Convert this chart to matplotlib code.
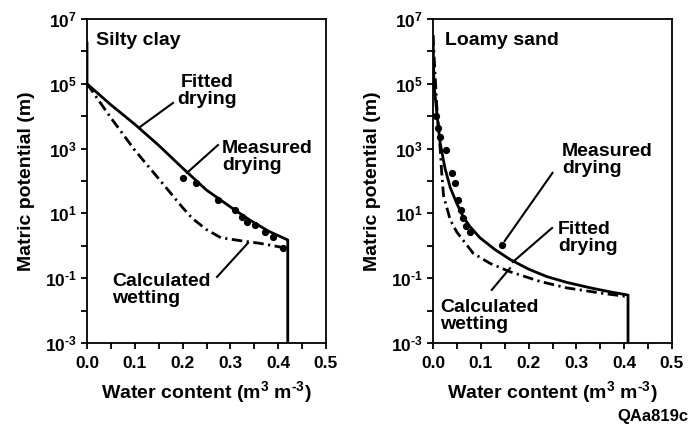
import numpy as np
import matplotlib
matplotlib.use("Agg")
import matplotlib.pyplot as plt
from matplotlib.ticker import FixedLocator, NullFormatter

plt.rcParams['font.family'] = ['Liberation Sans', 'DejaVu Sans']
plt.rcParams['font.weight'] = 'bold'
plt.rcParams['axes.labelweight'] = 'bold'
plt.rcParams['mathtext.fontset'] = 'custom'
plt.rcParams['mathtext.rm'] = 'Liberation Sans:bold'
plt.rcParams['mathtext.bf'] = 'Liberation Sans:bold'
plt.rcParams['mathtext.it'] = 'Liberation Sans:bold:italic'
plt.rcParams['mathtext.default'] = 'rm'

# ---------------- data: silty clay (left) ----------------
sc_fit_theta = [0.0, 0.0, 0.05, 0.10, 0.15, 0.20, 0.25, 0.30, 0.34, 0.38, 0.42, 0.42]
sc_fit_logh = [6.3, 5.0, 4.35, 3.75, 3.1, 2.4, 1.72, 1.2, 0.8, 0.45, 0.18, -3.0]
sc_wet_theta = [0.0, 0.05, 0.10, 0.15, 0.20, 0.22, 0.25, 0.28, 0.32, 0.36, 0.42]
sc_wet_logh = [5.0, 3.95, 2.95, 2.07, 1.18, 0.85, 0.5, 0.25, 0.16, 0.08, -0.08]
sc_meas_theta = [0.201, 0.228, 0.274, 0.31, 0.324, 0.334, 0.351, 0.372, 0.389, 0.41]
sc_meas_logh = [2.09, 1.94, 1.41, 1.1, 0.88, 0.73, 0.64, 0.43, 0.27, -0.07]

# ---------------- data: loamy sand (right) ----------------
ls_fit_theta = [0.0, 0.002, 0.008, 0.015, 0.025, 0.036, 0.05, 0.063, 0.077, 0.098,
                0.13, 0.161, 0.20, 0.238, 0.28, 0.33, 0.37, 0.408, 0.408]
ls_fit_logh = [6.5, 5.0, 4.1, 3.17, 2.4, 1.8, 1.3, 0.9, 0.6, 0.25,
               -0.12, -0.42, -0.72, -0.95, -1.13, -1.3, -1.42, -1.52, -3.0]
ls_wet_theta = [0.0, 0.008, 0.015, 0.018, 0.022, 0.036, 0.05, 0.084, 0.119, 0.161,
                0.203, 0.224, 0.28, 0.356, 0.408]
ls_wet_logh = [6.5, 4.3, 3.0, 2.3, 1.55, 0.8, 0.42, -0.23, -0.54, -0.8,
               -1.0, -1.1, -1.3, -1.47, -1.57]
ls_meas_theta = [0.006, 0.01, 0.015, 0.027, 0.04, 0.046, 0.052, 0.058, 0.063, 0.068, 0.077, 0.145]
ls_meas_logh = [4.0, 3.65, 3.35, 2.96, 2.25, 1.95, 1.42, 1.12, 0.85, 0.6, 0.42, 0.02]

x_ticks = [0.0, 0.1, 0.2, 0.3, 0.4, 0.5]
x_ticklabels = ['0.0', '0.1', '0.2', '0.3', '0.4', '0.5']
y_exps = [7, 5, 3, 1, -1, -3]

FS_TICK = 12.5
FS_TXT = 14
FS_LAB = 14
fig = plt.figure(figsize=(6.91, 4.30), dpi=100)
ax1 = fig.add_axes([87/691, 87/430, 239/691, 324/430])
ax2 = fig.add_axes([433/691, 87/430, 239/691, 324/430])

wet_dashes = (3.8, 1.6, 0.8, 1.6)


def h(v):
    return [10.0 ** a for a in v]


def exp_label(e):
    s = str(e).replace('-', '\u2010')
    return r'$10^{%s}$' % s


def style(ax):
    ax.set_yscale('log')
    ax.set_xlim(0, 0.5)
    ax.set_ylim(1e-3, 1e7)
    ax.xaxis.set_major_locator(FixedLocator(x_ticks))
    ax.set_xticklabels(x_ticklabels)
    ax.xaxis.set_minor_locator(FixedLocator([0.05, 0.15, 0.25, 0.35, 0.45]))
    ax.yaxis.set_major_locator(FixedLocator([10.0 ** e for e in y_exps]))
    ax.set_yticklabels([exp_label(e) for e in y_exps])
    ax.yaxis.set_minor_locator(FixedLocator([10.0 ** e for e in range(-2, 7, 2)]))
    ax.yaxis.set_minor_formatter(NullFormatter())
    ax.tick_params(which='both', direction='out', length=4.5, width=1.3,
                   labelsize=FS_TICK, top=False, right=False)
    ax.tick_params(axis='x', pad=5)
    ax.tick_params(axis='y', pad=3)
    for s in ax.spines.values():
        s.set_linewidth(1.3)
    ax.set_xlabel('Water content (m$^{3}$ m$^{\u20103}$)', fontsize=FS_LAB, labelpad=6)
    ax.set_ylabel('Matric potential (m)', fontsize=FS_LAB, labelpad=7)


for ax in (ax1, ax2):
    style(ax)

# left panel
ax1.plot(sc_fit_theta, h(sc_fit_logh), color='black', lw=2.0, solid_capstyle='butt')
l, = ax1.plot(sc_wet_theta, h(sc_wet_logh), color='black', lw=2.0)
l.set_dashes(wet_dashes)
ax1.plot(sc_meas_theta, h(sc_meas_logh), 'o', color='black', ms=4.2)
ax1.text(0.019, 10 ** 6.35, 'Silty clay', fontsize=FS_TXT, va='center', ha='left')
ax1.text(0.252, 10 ** 4.78, 'Fitted\ndrying', fontsize=FS_TXT, va='center', ha='center',
         linespacing=1.05)
ax1.plot([0.111, 0.18], [10 ** 3.67, 10 ** 4.41], color='black', lw=1.5)
ax1.text(0.282, 10 ** 2.74, 'Measured\ndrying', fontsize=FS_TXT, va='center', ha='left',
         linespacing=1.05)
ax1.plot([0.209, 0.274], [10 ** 2.25, 10 ** 3.11], color='black', lw=1.5)
ax1.text(0.052, 10 ** -1.36, 'Calculated\nwetting', fontsize=FS_TXT, va='center', ha='left',
         linespacing=1.05)
ax1.plot([0.272, 0.337], [10 ** -0.96, 10 ** 0.09], color='black', lw=1.5)

# right panel
ax2.plot(ls_fit_theta, h(ls_fit_logh), color='black', lw=2.0, solid_capstyle='butt')
l, = ax2.plot(ls_wet_theta, h(ls_wet_logh), color='black', lw=2.0)
l.set_dashes(wet_dashes)
ax2.plot(ls_meas_theta, h(ls_meas_logh), 'o', color='black', ms=4.2)
ax2.text(0.025, 10 ** 6.35, 'Loamy sand', fontsize=FS_TXT, va='center', ha='left')
ax2.text(0.27, 10 ** 2.65, 'Measured\ndrying', fontsize=FS_TXT, va='center', ha='left',
         linespacing=1.05)
ax2.plot([0.15, 0.25], [10 ** 0.15, 10 ** 2.25], color='black', lw=1.5)
ax2.text(0.262, 10 ** 0.24, 'Fitted\ndrying', fontsize=FS_TXT, va='center', ha='left',
         linespacing=1.05)
ax2.plot([0.167, 0.249], [10 ** -0.5, 10 ** 0.55], color='black', lw=1.5)
ax2.text(0.015, 10 ** -2.17, 'Calculated\nwetting', fontsize=FS_TXT, va='center', ha='left',
         linespacing=1.05)
ax2.plot([0.123, 0.161], [10 ** -1.36, 10 ** -0.69], color='black', lw=1.5)

fig.text(688/691, 1 - 417/430, 'QAa819c', fontsize=12, ha='right', va='center',
         fontweight='bold')

fig.savefig('out.png', dpi=100)
